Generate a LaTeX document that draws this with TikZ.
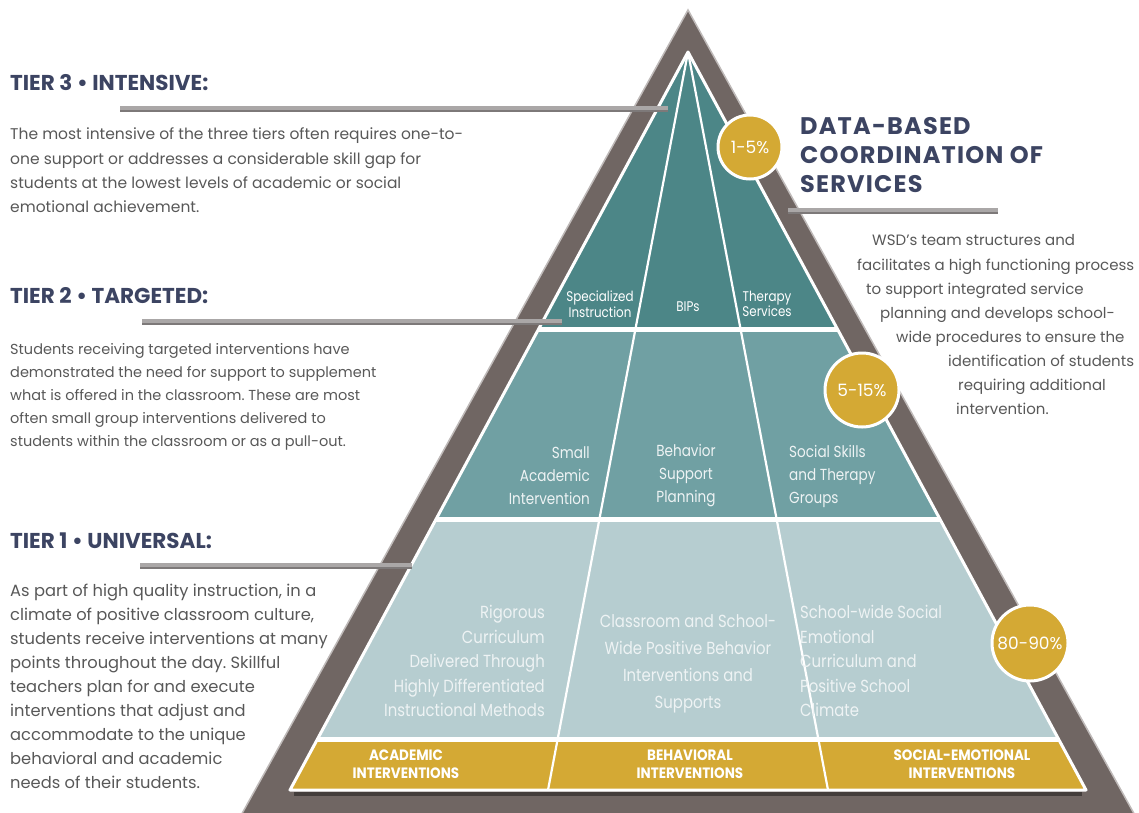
\documentclass[tikz,border=0pt]{standalone}
\usepackage{fontspec}
\setmainfont{Poppins}
\newfontfamily\labfont[FakeStretch=0.85]{Poppins}
\newfontfamily\bandfont[FakeStretch=0.9]{Poppins}
\newfontfamily\widefont[LetterSpace=5]{Poppins}
\usetikzlibrary{calc}
\frenchspacing
\definecolor{pyrgray}{RGB}{112,102,99}
\definecolor{tierthree}{RGB}{76,134,135}
\definecolor{tiertwo}{RGB}{112,160,163}
\definecolor{tierone}{RGB}{182,205,208}
\definecolor{gold}{RGB}{212,169,52}
\definecolor{navy}{RGB}{60,68,98}
\definecolor{bodygray}{RGB}{88,88,88}
\definecolor{bargray}{RGB}{170,167,167}
\definecolor{barshade}{RGB}{125,121,121}
\definecolor{pale}{RGB}{238,243,244}

\begin{document}
\begin{tikzpicture}[x=1pt,y=-1pt,
    head/.style={anchor=mid west,inner sep=0pt,text=navy,font=\bfseries\fontsize{21.5}{24}\selectfont},
    bighead/.style={anchor=mid west,inner sep=0pt,text=navy,font=\widefont\bfseries\fontsize{24}{28}\selectfont},
    body/.style={anchor=mid west,inner sep=0pt,text=bodygray,font=\fontsize{15.5}{24}\selectfont},
    leader/.style={draw=bargray,line width=4.5pt,preaction={draw=barshade,line width=5pt,transform canvas={yshift=-1.2pt}}},
    small/.style={inner sep=0pt,text=white,align=center,font=\labfont\fontsize{14}{15.5}\selectfont},
    lab/.style={inner sep=0pt,text=pale,font=\labfont\fontsize{16}{23}\selectfont},
    labone/.style={inner sep=0pt,text=pale,font=\labfont\fontsize{17.5}{24.5}\selectfont},
    band/.style={inner sep=0pt,text=white,align=center,font=\bandfont\bfseries\fontsize{15}{18}\selectfont},
    pct/.style={circle,fill=gold,draw=white,line width=3pt,inner sep=0pt,text=white,font=\fontsize{17}{17}\selectfont}]
\useasboundingbox (0,0) rectangle (1139,812);

\fill[pyrgray,draw=pyrgray!45,line width=1.5pt] (688,10) -- (229,837) -- (1147,837) -- cycle;

\coordinate (apex) at (688,52);
\coordinate (bl) at (290,790);
\coordinate (br) at (1086,790);
\coordinate (dl) at (548,790);
\coordinate (dr) at (828,790);
\draw[line width=4pt,pyrgray!60!black] ($(bl)+(4,4)$) -- ($(br)+(-4,4)$);
\begin{scope}
  \clip (apex) -- (bl) -- (br) -- cycle;
  \fill[tierthree] (280,40) rectangle (1100,329);
  \fill[tiertwo] (280,329) rectangle (1100,519);
  \fill[tierone] (280,519) rectangle (1100,739);
  \fill[gold] (280,739) rectangle (1100,800);
  \foreach \y in {329,519,739}
    \draw[white,line width=5pt] (280,\y) -- (1100,\y);
  \draw[white,line width=2.2pt] (dl) -- (apex) -- (dr);
\end{scope}
\draw[white,line width=3pt,line join=round] (apex) -- (bl) -- (br) -- cycle;

\coordinate (l3a) at (120,108);
\coordinate (l3b) at (668,108);
\coordinate (l2a) at (142,321);
\coordinate (l2b) at (562,321);
\coordinate (l1a) at (140,565);
\coordinate (l1b) at (412,565);
\coordinate (lra) at (788,210);
\coordinate (lrb) at (998,210);
\foreach \a/\b in {l3a/l3b,l2a/l2b,l1a/l1b,lra/lrb}
  \draw[leader] (\a) -- (\b);

\node[head] (h3) at (10,88) {TIER 3 • INTENSIVE:};
\node[head] (h2) at (10,301) {TIER 2 • TARGETED:};
\node[head] (h1) at (10,546) {TIER 1 • UNIVERSAL:};

\foreach \t [count=\i from 0] in {The most intensive of the three tiers often requires one-to-,
  one support or addresses a considerable skill gap for,
  students at the lowest levels of academic or social,
  emotional achievement.}
  \node[body] (b3-\i) at (10,137+24.3*\i) {\t};
\foreach \t [count=\i from 0] in {Students receiving targeted interventions have,
  demonstrated the need for support to supplement,
  what is offered in the classroom. These are most,
  often small group interventions delivered to,
  students within the classroom or as a pull-out.}
  \node[body,font=\fontsize{14.5}{23}\selectfont] (b2-\i) at (10,352+23*\i) {\t};
\foreach \t [count=\i from 0] in {{As part of high quality instruction, in a},
  {climate of positive classroom culture,},
  students receive interventions at many,
  points throughout the day. Skillful,
  teachers plan for and execute,
  interventions that adjust and,
  accommodate to the unique,
  behavioral and academic,
  needs of their students.}
  \node[body,font=\fontsize{16.3}{24}\selectfont] (b1-\i) at (10,594+24*\i) {\t};

\foreach \t [count=\i from 0] in {DATA-BASED,COORDINATION OF,SERVICES}
  \node[bighead] (d-\i) at (800,132+29*\i) {\t};
\foreach \x/\y/\t [count=\i] in {872/243/WSD’s team structures and,
  857/268/facilitates a high functioning process,
  866/292/to support integrated service,
  880/316/planning and develops school-,
  896/340/wide procedures to ensure the,
  948/364/identification of students,
  958/388/requiring additional,
  956/412/intervention.}
  \node[body,font=\fontsize{15}{24}\selectfont] (w-\i) at (\x,\y) {\t};

\node[small] (spec) at (600,304) {Specialized\\Instruction};
\node[small] (bip) at (688,307) {BIPs};
\node[small] (ther) at (767,304) {Therapy\\Services};

\node[lab,anchor=east,align=right] (sai) at (590,476) {Small\\Academic\\Intervention};
\node[lab,align=center] (bsp) at (686,476) {Behavior\\Support\\Planning};
\node[lab,anchor=west,align=left] (sst) at (789,476) {Social Skills\\and Therapy\\Groups};

\node[labone,anchor=east,align=right] (rig) at (545,661) {Rigorous\\Curriculum\\Delivered Through\\Highly Differentiated\\Instructional Methods};
\node[labone,align=center,font=\labfont\fontsize{17.5}{27}\selectfont] (cls) at (688,664) {Classroom and School-\\Wide Positive Behavior\\Interventions and\\Supports};
\node[labone,anchor=west,align=left] (swc) at (800,661) {School-wide Social\\Emotional\\Curriculum and\\Positive School\\Climate};

\node[band] (acad) at (406,764) {ACADEMIC\\INTERVENTIONS};
\node[band] (behv) at (690,764) {BEHAVIORAL\\INTERVENTIONS};
\node[band] (soc) at (962,764) {SOCIAL-EMOTIONAL\\INTERVENTIONS};

\node[pct,minimum size=64pt] (p1) at (750,147) {1-5\%};
\node[pct,minimum size=74pt] (p2) at (862,390) {5-15\%};
\node[pct,minimum size=76pt] (p3) at (1030,643) {80-90\%};
\end{tikzpicture}
\end{document}
